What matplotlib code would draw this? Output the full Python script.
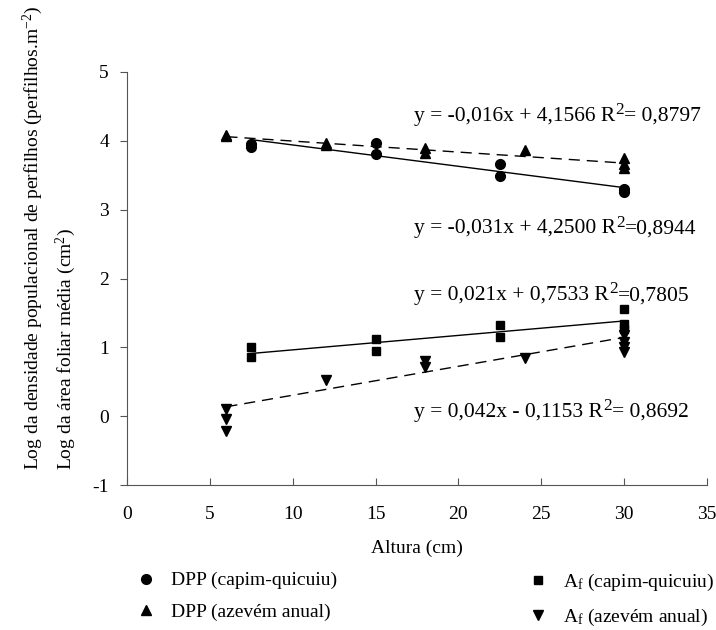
import numpy as np
import matplotlib
matplotlib.use("Agg")
import matplotlib.pyplot as plt

plt.rcParams['font.family'] = ['Liberation Serif', 'DejaVu Serif']
plt.rcParams['mathtext.fontset'] = 'custom'
plt.rcParams['mathtext.rm'] = 'Liberation Serif'
plt.rcParams['mathtext.it'] = 'Liberation Serif:italic'
plt.rcParams['axes.unicode_minus'] = False

# DPP capim-quicuiu (circles)
dpp_q_x = [7.5, 7.5, 15, 15, 22.5, 22.5, 30, 30]
dpp_q_y = [3.95, 3.91, 3.97, 3.81, 3.67, 3.49, 3.30, 3.25]
# DPP azevem anual (triangles up)
dpp_a_x = [6, 6, 12, 12, 18, 18, 24, 30, 30, 30]
dpp_a_y = [4.09, 4.07, 3.97, 3.94, 3.89, 3.83, 3.86, 3.75, 3.67, 3.60]
# Af capim-quicuiu (squares)
af_q_x = [7.5, 7.5, 15, 15, 22.5, 22.5, 30, 30, 30]
af_q_y = [1.01, 0.86, 1.12, 0.95, 1.33, 1.15, 1.56, 1.34, 1.27]
# Af azevem anual (triangles down)
af_a_x = [6, 6, 6, 12, 18, 18, 24, 30, 30, 30, 30]
af_a_y = [0.10, -0.04, -0.22, 0.52, 0.80, 0.72, 0.85, 1.18, 1.08, 1.00, 0.93]

# regression coefficients (slope, intercept)
fit_dpp_q = (-0.031, 4.2500)
fit_dpp_a = (-0.016, 4.1566)
fit_af_q = (0.021, 0.7533)
fit_af_a = (0.042, -0.1153)

# equation labels: text before the R, text after the superscript 2
eq_head = ["y = -0,016x + 4,1566 R", "y = -0,031x + 4,2500 R",
           "y = 0,021x + 0,7533 R", "y = 0,042x - 0,1153 R"]
eq_tail = ["= 0,8797", "=0,8944", "=0,7805", "= 0,8692"]
eq_y = [4.36, 2.72, 1.75, 0.06]

fig = plt.figure(figsize=(7.16, 6.3), dpi=100)
ax = fig.add_axes([127 / 716, 1 - 485 / 630, 580 / 716, 413 / 630])

fs_tick = 14
fs_eq = 15.5
fs_leg = 14


def trend(xs, fit, **kw):
    xx = np.array([min(xs), max(xs)])
    ax.plot(xx, fit[0] * xx + fit[1], color='black', lw=1, **kw)


trend(dpp_q_x, fit_dpp_q)
trend(dpp_a_x, fit_dpp_a, dashes=(8, 5))
trend(af_q_x, fit_af_q)
trend(af_a_x, fit_af_a, dashes=(8, 5))

h1, = ax.plot(dpp_q_x, dpp_q_y, 'o', color='black', ms=7, label='DPP (capim-quicuiu)')
h2, = ax.plot(dpp_a_x, dpp_a_y, '^', color='black', ms=7, label='DPP (azevém anual)')
h3, = ax.plot(af_q_x, af_q_y, 's', color='black', ms=6, label='A$_{\\mathrm{f}}$ (capim-quicuiu)')
h4, = ax.plot(af_a_x, af_a_y, 'v', color='black', ms=7, label='A$_{\\mathrm{f}}$ (azevém anual)')

# equations with a large raised "2" like the original
for head, tail, yy in zip(eq_head, eq_tail, eq_y):
    t1 = ax.text(17.3, yy, head, fontsize=fs_eq, va='center', ha='left')
    t2 = ax.annotate("2", xy=(1, 1), xycoords=t1, xytext=(0.3, 3.5),
                     textcoords='offset points', fontsize=fs_eq * 0.8,
                     va='top', ha='left')
    ax.annotate(tail, xy=(1, 0), xycoords=(t2, t1), fontsize=fs_eq,
                va='bottom', ha='left')

ax.set_xlim(0, 35)
ax.set_ylim(-1, 5)
ax.set_xticks(range(0, 36, 5))
ax.set_yticks(range(-1, 6))
for s in ['top', 'right']:
    ax.spines[s].set_visible(False)
for s in ['left', 'bottom']:
    ax.spines[s].set_color('#555555')
ax.tick_params(axis='x', direction='in', length=5, color='#555555', labelsize=fs_tick, pad=15)
ax.tick_params(axis='y', direction='out', length=5, color='#555555', labelsize=fs_tick, pad=8)
ax.set_xlabel('Altura (cm)', fontsize=fs_tick, labelpad=12)

fig.text(33 / 716, 1 - 470 / 630,
         "Log da densidade populacional de perfilhos (perfilhos.m$^{-2}$)",
         rotation=90, fontsize=14, ha='center', va='bottom')
fig.text(66 / 716, 1 - 470 / 630,
         "Log da área foliar média (cm$^{2}$)",
         rotation=90, fontsize=14, ha='center', va='bottom')

leg_kw = dict(frameon=False, fontsize=fs_leg, handletextpad=0.8, labelspacing=0.7,
              handlelength=1.0, loc='upper left', borderaxespad=0)
fig.legend(handles=[h1, h2], bbox_to_anchor=(128 / 716, 1 - 564 / 630), **leg_kw)
fig.legend(handles=[h3, h4], bbox_to_anchor=(520 / 716, 1 - 564 / 630), **leg_kw)

fig.savefig('out.png', dpi=100)
